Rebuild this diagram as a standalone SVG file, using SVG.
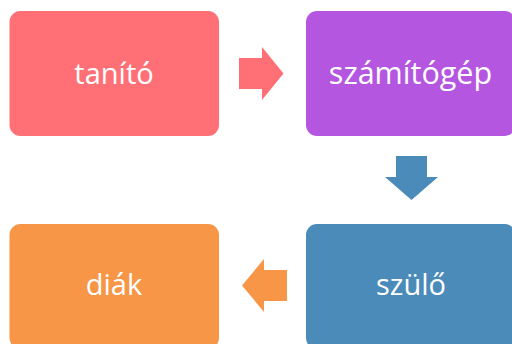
<svg xmlns="http://www.w3.org/2000/svg" width="512" height="344" viewBox="0 0 512 344">
<style>
.lbl{font-family:"Open Sans","Noto Sans","DejaVu Sans",sans-serif;font-size:29px;fill:#fff;text-anchor:middle}
</style>
<rect width="512" height="344" fill="#fff"/>
<g id="connectors">
<polygon points="239,58 262,58 262,47 283.5,73.5 262,100 262,89 239,89" fill="#FF7076"/>
<polygon points="396,156 427,156 427,177 438,177 411.5,200 385,177 396,177" fill="#4A8BBA"/>
<polygon points="287,270 264,270 264,259 242,285.5 264,312 264,301 287,301" fill="#F79646"/>
</g>
<g id="tanito">
<rect x="9.5" y="11" width="209.5" height="125" rx="11" fill="#FF7076"/>
<text class="lbl" x="114" y="83.5">tanító</text>
</g>
<g id="szamitogep">
<rect x="306" y="11" width="209.5" height="125" rx="11" fill="#B556E0"/>
<text class="lbl" x="410.5" y="83.5" style="font-size:30.5px">számítógép</text>
</g>
<g id="szulo">
<rect x="306" y="224" width="209.5" height="125" rx="11" fill="#4A8BBA"/>
<text class="lbl" x="411" y="295">szülő</text>
</g>
<g id="diak">
<rect x="9.5" y="224" width="209.5" height="125" rx="11" fill="#F79646"/>
<text class="lbl" x="114" y="295">diák</text>
</g>
</svg>
